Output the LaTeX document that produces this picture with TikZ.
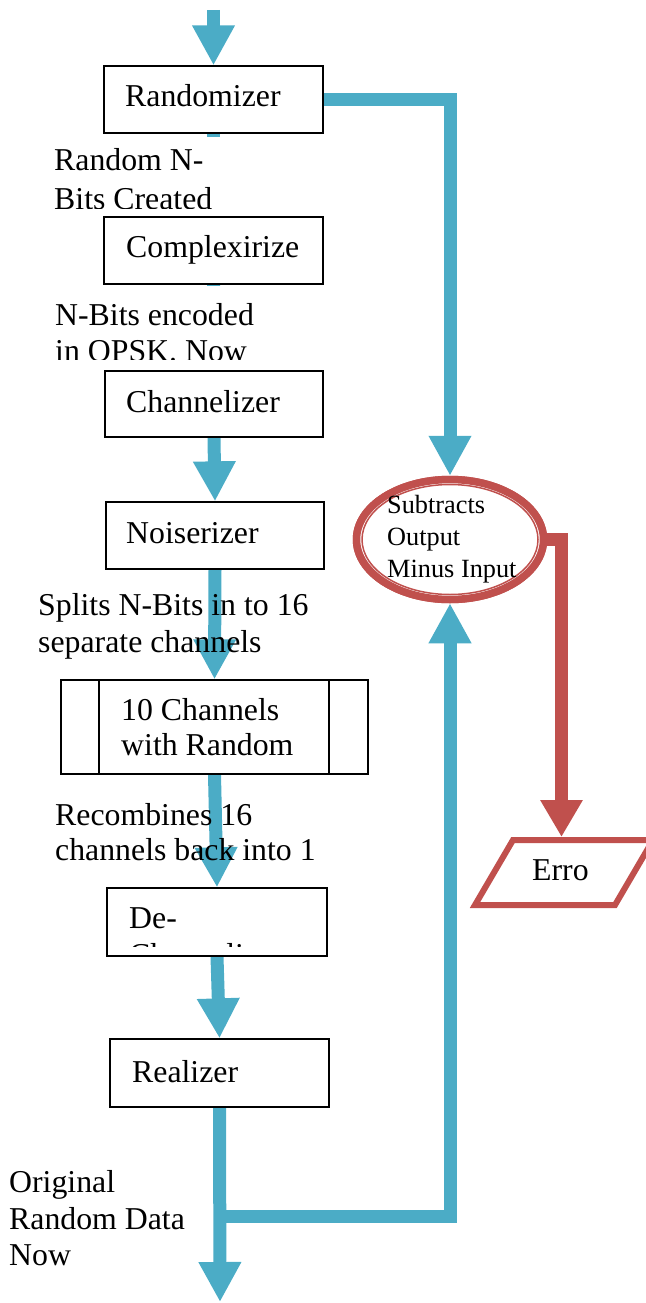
\documentclass[tikz,border=0pt]{standalone}
\usepackage{fontspec}
\setmainfont{Liberation Serif}
\usetikzlibrary{arrows.meta,shapes.geometric}
\definecolor{flowblue}{HTML}{4BACC6}
\definecolor{flowred}{HTML}{C0504D}
\begin{document}
\begin{tikzpicture}[x=1pt,y=-1pt,
  box/.style={draw=black,line width=1.3pt,fill=white,rectangle,inner sep=0pt},
  txt/.style={inner sep=0pt,anchor=base west,font=\fontsize{31.8}{36}\selectfont},
  stxt/.style={inner sep=0pt,anchor=base west,font=\fontsize{26.3}{32}\selectfont},
  barrow/.style={draw=flowblue,line width=13pt,-{Triangle[width=40pt,length=40pt]}},
  rarrow/.style={draw=flowred,line width=13pt,-{Triangle[width=40pt,length=37pt]}},
]
\useasboundingbox (0,0) rectangle (645,1303);

% boxes (positions)
\node[box,minimum width=219pt,minimum height=67pt] (rand) at (213.5,99.5) {};
\node[box,minimum width=219pt,minimum height=67pt] (comp) at (213.5,250.5) {};
\node[box,minimum width=218pt,minimum height=66pt] (chan) at (214,404) {};
\node[box,minimum width=218pt,minimum height=67pt] (noise) at (215,535.5) {};
\node[box,minimum width=307pt,minimum height=94pt] (ten) at (214.5,727) {};
\node[box,minimum width=220pt,minimum height=68pt] (dech) at (217,922) {};
\node[box,minimum width=219pt,minimum height=68pt] (real) at (219.5,1073) {};
\node[ellipse,draw=flowred,line width=7.5pt,fill=white,inner sep=0pt,
      minimum width=187pt,minimum height=120pt] (ell) at (450,539.5) {};

\coordinate (start) at (213.5,10);
\coordinate (stop) at (220,1302);
\coordinate (br) at (220,1216.5);
\coordinate (ptop) at (561.5,837);

% blue connectors (behind boxes)
\draw[barrow] (start) -- (rand.north);
\draw[barrow] (rand.south) -- (comp.north);
\draw[barrow] (comp.south) -- (chan.north);
\draw[barrow] (chan.south) -- (noise.north);
\draw[barrow] (noise.south) -- (ten.north);
\draw[barrow] (ten.south) -- (dech.north);
\draw[barrow] (dech.south) -- (real.north);
\draw[barrow] (real.south) -- (stop);
\draw[barrow] (br) -| (ell.south);
\draw[barrow] (rand.east) -| (ell.north);

% white label areas hiding connectors
\fill[white] (48,137) rectangle (272,216);
\fill[white] (48,286) rectangle (272,370);

% redraw boxes on top
\node[box,minimum width=219pt,minimum height=67pt] at (rand) {};
\node[box,minimum width=219pt,minimum height=67pt] at (comp) {};
\node[box,minimum width=218pt,minimum height=66pt] at (chan) {};
\node[box,minimum width=218pt,minimum height=67pt] at (noise) {};
\node[box,minimum width=307pt,minimum height=94pt] at (ten) {};
\draw[line width=1.3pt] (99,680) -- (99,774) (329,680) -- (329,774);
\node[box,minimum width=220pt,minimum height=68pt] at (dech) {};
\node[box,minimum width=219pt,minimum height=68pt] at (real) {};
\node[ellipse,draw=flowred,line width=7.5pt,fill=white,inner sep=0pt,
      minimum width=187pt,minimum height=120pt] at (ell) {};
\draw[flowred,line width=1.5pt] (ell.center) ellipse [x radius=88, y radius=55];

% red connector and output
\draw[rarrow] (ell.east) -| (ptop);
\draw[flowred,line width=6pt,fill=white,line join=miter]
  (475,905) -- (513,840) -- (653,840) -- (615,905) -- cycle;

% box texts
\node[txt] (trand) at (125,107) {Randomizer};
\node[txt] (tcomp) at (126,257) {Complexirize};
\node[txt] (tchan) at (126,412) {Channelizer};
\node[txt] (tnoise) at (126,543) {Noiserizer};
\node[txt] (tten1) at (121,720) {10 Channels};
\node[txt] (tten2) at (121,755) {with Random};
\begin{scope}
\clip (100,880) rectangle (340,946);
\node[txt] (tdech1) at (129,928) {De-};
\node[txt] (tdech2) at (129,965) {Channelizer};
\end{scope}
\node[txt] (treal) at (132,1082) {Realizer};
\node[txt] (terro) at (532,880) {Erro};

% ellipse text
\node[stxt] (tell1) at (387,513) {Subtracts};
\node[stxt] (tell2) at (387,545) {Output};
\node[stxt] (tell3) at (387,577) {Minus Input};

% side labels
\begin{scope}
\clip (0,0) rectangle (645,208);
\node[txt] (l1a) at (54,170) {Random N-};
\node[txt] (l1b) at (54,209) {Bits Created};
\end{scope}
\begin{scope}
\clip (0,280) rectangle (645,359.5);
\node[txt] (l2a) at (55,325) {N-Bits encoded};
\node[txt] (l2b) at (55,361) {in QPSK. Now};
\end{scope}
\node[txt] (l3a) at (38,615) {Splits N-Bits in to 16};
\node[txt] (l3b) at (38,652) {separate channels};
\node[txt] (l4a) at (55,825) {Recombines 16};
\node[txt] (l4b) at (55,860) {channels back into 1};
\node[txt] (l5a) at (9,1192) {Original};
\node[txt] (l5b) at (9,1229) {Random Data};
\node[txt] (l5c) at (9,1265) {Now};
\end{tikzpicture}
\end{document}
